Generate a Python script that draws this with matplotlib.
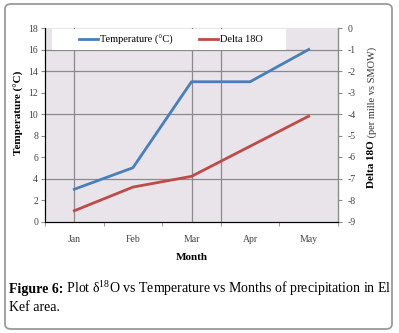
import matplotlib
matplotlib.use("Agg")
from matplotlib import pyplot as plt
from matplotlib import transforms
from matplotlib.patches import FancyBboxPatch, Rectangle

months = ["Jan", "Feb", "Mar", "Apr", "May"]
temperature = [3, 5, 13, 13, 16]
delta18o = [-8.5, -7.4, -6.9, -5.5, -4.1]
left_ticks = list(range(0, 19, 2))
right_ticks = list(range(-9, 1))

plt.rcParams['font.family'] = ['Liberation Serif', 'DejaVu Serif']
plt.rcParams['mathtext.fontset'] = 'custom'
plt.rcParams['mathtext.rm'] = 'Liberation Serif'
plt.rcParams['axes.unicode_minus'] = False

blue = '#4a7ebb'
red = '#be4b48'
grid_c = '#8a8a8a'
tick_c = '#444444'

fig = plt.figure(figsize=(3.99, 3.33), dpi=100)

# outer frame
frame = FancyBboxPatch((5 / 399, 4 / 333), 387 / 399, 325 / 333,
                       boxstyle="round,pad=0,rounding_size=0.015",
                       transform=fig.transFigure, facecolor='none',
                       edgecolor='#9a9a9a', linewidth=1.3, zorder=0)
fig.patches.append(frame)

ax = fig.add_axes([45 / 399, 111.5 / 333, 293 / 399, 193.5 / 333])
ax.set_facecolor('#e8e4e9')
x = list(range(len(months)))

for g in [16, 14, 10, 4]:
    ax.axhline(g, color=grid_c, lw=0.9, zorder=1)
for g in [0, 2, 2.5]:
    ax.axvline(g, color=grid_c, lw=0.9, zorder=1)

ax.plot(x, temperature, color=blue, lw=2.0, zorder=3, label='Temperature (°C)')
ax.set_xlim(-0.5, 4.5)
ax.set_ylim(0, 18)
ax.set_yticks(left_ticks)
ax.set_xticks(x)
ax.set_xticklabels(months)
ax.set_xticks([i - 0.5 for i in range(len(months) + 1)], minor=True)
ax.tick_params(axis='x', which='major', length=0, pad=10, labelsize=7, labelcolor=tick_c)
ax.tick_params(axis='x', which='minor', length=3, color=grid_c)
ax.tick_params(axis='y', length=3, color=grid_c, labelsize=7, labelcolor=tick_c, pad=2)
ax.set_ylabel('Temperature (°C)', fontsize=8, fontweight='bold')
ax.yaxis.set_label_coords(-0.072, 0.56)
ax.set_xlabel('Month', fontsize=8, fontweight='bold', labelpad=6)
ax.spines['top'].set_visible(False)
for s in ['left', 'bottom', 'right']:
    ax.spines[s].set_color(grid_c)
    ax.spines[s].set_linewidth(0.9)

ax2 = ax.twinx()
ax2.plot(x, delta18o, color=red, lw=2.0, zorder=3, label='Delta 18O')
ax2.set_ylim(-9, 0)
ax2.set_yticks(right_ticks)
ax2.tick_params(axis='y', length=3, color=grid_c, labelsize=7, labelcolor=tick_c, pad=4)
ax2.spines['top'].set_visible(False)
ax2.spines['right'].set_color(grid_c)

# legend box
ax2.add_patch(Rectangle((7 / 293, 171.5 / 193.5), 234 / 293, 21 / 193.5,
                        transform=ax.transAxes, facecolor='white',
                        edgecolor='none', zorder=4))
h1, l1 = ax.get_legend_handles_labels()
h2, l2 = ax2.get_legend_handles_labels()
leg = ax2.legend(h1 + h2, l1 + l2, ncol=2, mode='expand', frameon=False,
                 bbox_to_anchor=(32 / 293, 171.5 / 193.5, 188 / 293, 21 / 193.5),
                 loc='center', borderaxespad=0, borderpad=0.2,
                 handlelength=1.8, handletextpad=0.2, fontsize=7.5)
leg.set_zorder(5)

# right axis label, bold part + normal part
t1 = fig.text(372 / 399, 1 - 164 / 333, 'Delta 18O', rotation=90, fontsize=8,
              fontweight='bold', ha='center', va='center')
fig.canvas.draw()
bb = t1.get_window_extent()
fig.text((bb.x0 + bb.x1) / 2, bb.y1, ' (per mille vs SMOW)', rotation=90,
         fontsize=7.5, ha='center', va='bottom', color='#333333',
         transform=transforms.IdentityTransform())

# caption
cap_fs = 10
c1 = fig.text(9 / 399, 1 - 293 / 333, 'Figure 6:', fontsize=cap_fs, fontweight='bold',
              ha='left', va='baseline')
fig.canvas.draw()
cb = c1.get_window_extent()
fig.text(cb.x1, 1 - 293 / 333,
         ' Plot δ$^{18}$O vs Temperature vs Months of precipitation in El',
         fontsize=cap_fs, ha='left', va='baseline',
         transform=transforms.blended_transform_factory(
             transforms.IdentityTransform(), fig.transFigure))
fig.text(9 / 399, 1 - 311 / 333, 'Kef area.', fontsize=cap_fs, ha='left', va='baseline')

fig.savefig('out.png', dpi=100)
